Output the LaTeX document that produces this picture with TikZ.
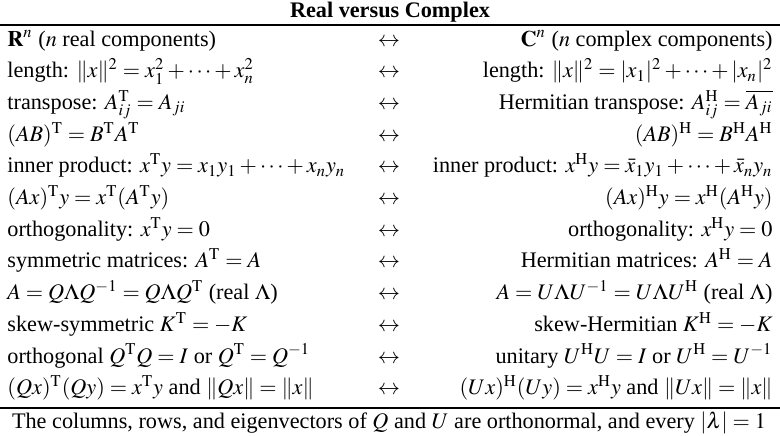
\documentclass[tikz,border=0pt]{standalone}
\usepackage{mathptmx}
\usepackage[no-math]{fontspec}
\setmainfont{Liberation Serif}
\newcommand{\TT}{\mathrm{T}}
\newcommand{\HH}{\mathrm{H}}
\begin{document}
\begin{tikzpicture}[x=0.45pt,y=-0.45pt,
  cellL/.style={anchor=base west,inner sep=0pt,font=\fontsize{10}{12}\selectfont},
  cellR/.style={anchor=base east,inner sep=0pt,font=\fontsize{10}{12}\selectfont},
  cellA/.style={anchor=base,inner sep=0pt,font=\fontsize{10}{12}\selectfont},
  rulel/.style={line width=0.5pt}]
\useasboundingbox (0,0) rectangle (780,435);
\node[anchor=base,inner sep=0pt,font=\fontsize{10}{12}\selectfont\bfseries] (title) at (390,17) {Real versus Complex};
\coordinate (t1) at (0,25); \coordinate (t2) at (780,25);
\draw[rulel] (t1) -- (t2);
\node[cellL] (L1) at (7,46) {$\mathbf{R}^n$ ($n$ real components)};
\node[cellA] (A1) at (389,46) {$\leftrightarrow$};
\node[cellR] (R1) at (773,46) {$\mathbf{C}^n$ ($n$ complex components)};
\node[cellL] (L2) at (7,77.7) {length: $\|x\|^2=x_1^2+\cdots+x_n^2$};
\node[cellA] (A2) at (389,77.7) {$\leftrightarrow$};
\node[cellR] (R2) at (773,77.7) {length: $\|x\|^2=|x_1|^2+\cdots+|x_n|^2$};
\node[cellL] (L3) at (7,109.4) {transpose: $A^{\TT}_{ij}=A_{ji}$};
\node[cellA] (A3) at (389,109.4) {$\leftrightarrow$};
\node[cellR] (R3) at (773,109.4) {Hermitian transpose: $A^{\HH}_{ij}=\overline{A_{ji}}$};
\node[cellL] (L4) at (7,141.1) {$(AB)^{\TT}=B^{\TT}A^{\TT}$};
\node[cellA] (A4) at (389,141.1) {$\leftrightarrow$};
\node[cellR] (R4) at (773,141.1) {$(AB)^{\HH}=B^{\HH}A^{\HH}$};
\node[cellL] (L5) at (7,172.8) {inner product: $x^{\TT}y=x_1y_1+\cdots+x_ny_n$};
\node[cellA] (A5) at (389,172.8) {$\leftrightarrow$};
\node[cellR] (R5) at (773,172.8) {inner product: $x^{\HH}y=\bar{x}_1y_1+\cdots+\bar{x}_ny_n$};
\node[cellL] (L6) at (7,204.5) {$(Ax)^{\TT}y=x^{\TT}(A^{\TT}y)$};
\node[cellA] (A6) at (389,204.5) {$\leftrightarrow$};
\node[cellR] (R6) at (773,204.5) {$(Ax)^{\HH}y=x^{\HH}(A^{\HH}y)$};
\node[cellL] (L7) at (7,236.2) {orthogonality: $x^{\TT}y=0$};
\node[cellA] (A7) at (389,236.2) {$\leftrightarrow$};
\node[cellR] (R7) at (773,236.2) {orthogonality: $x^{\HH}y=0$};
\node[cellL] (L8) at (7,267.9) {symmetric matrices: $A^{\TT}=A$};
\node[cellA] (A8) at (389,267.9) {$\leftrightarrow$};
\node[cellR] (R8) at (773,267.9) {Hermitian matrices: $A^{\HH}=A$};
\node[cellL] (L9) at (7,299.6) {$A=Q\Lambda Q^{-1}=Q\Lambda Q^{\TT}$ (real $\Lambda$)};
\node[cellA] (A9) at (389,299.6) {$\leftrightarrow$};
\node[cellR] (R9) at (773,299.6) {$A=U\Lambda U^{-1}=U\Lambda U^{\HH}$ (real $\Lambda$)};
\node[cellL] (L10) at (7,331.3) {skew-symmetric $K^{\TT}=-K$};
\node[cellA] (A10) at (389,331.3) {$\leftrightarrow$};
\node[cellR] (R10) at (773,331.3) {skew-Hermitian $K^{\HH}=-K$};
\node[cellL] (L11) at (7,363) {orthogonal $Q^{\TT}Q=I$ or $Q^{\TT}=Q^{-1}$};
\node[cellA] (A11) at (389,363) {$\leftrightarrow$};
\node[cellR] (R11) at (773,363) {unitary $U^{\HH}U=I$ or $U^{\HH}=U^{-1}$};
\node[cellL] (L12) at (7,394.7) {$(Qx)^{\TT}(Qy)=x^{\TT}y$ and $\|Qx\|=\|x\|$};
\node[cellA] (A12) at (389,394.7) {$\leftrightarrow$};
\node[cellR] (R12) at (773,394.7) {$(Ux)^{\HH}(Uy)=x^{\HH}y$ and $\|Ux\|=\|x\|$};
\coordinate (b1) at (0,408); \coordinate (b2) at (780,408);
\draw[rulel] (b1) -- (b2);
\node[cellA] (foot) at (389,428) {The columns, rows, and eigenvectors of $Q$ and $U$ are orthonormal, and every $|\lambda|=1$};
\end{tikzpicture}
\end{document}
